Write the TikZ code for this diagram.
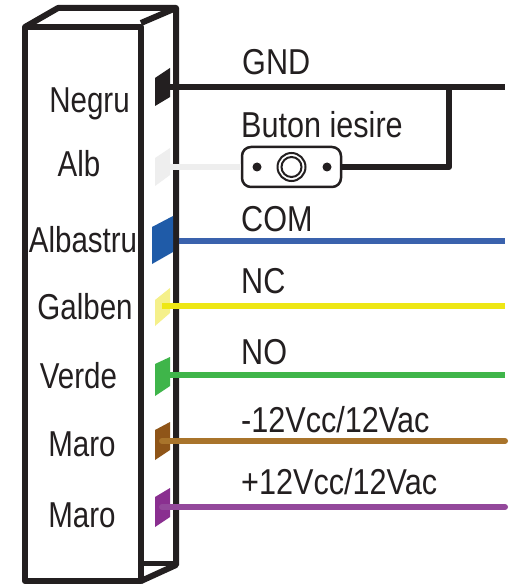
\documentclass[tikz,border=0pt]{standalone}
\usepackage{fontspec}
\newfontfamily\narrowfont[FakeStretch=0.82]{Liberation Sans}
\newfontfamily\tagfont[FakeStretch=0.85]{Liberation Sans}
\definecolor{ink}{HTML}{231F20}
\definecolor{pinwhite}{HTML}{EEEEEE}
\definecolor{pinblue}{HTML}{1F5BA8}
\definecolor{wireblue}{HTML}{3A62AD}
\definecolor{pinyellow}{HTML}{F5F08A}
\definecolor{wireyellow}{HTML}{EEE715}
\definecolor{pingreen}{HTML}{3FB54A}
\definecolor{pinbrown}{HTML}{8F5518}
\definecolor{wirebrown}{HTML}{A9742B}
\definecolor{pinpurple}{HTML}{8A2F90}
\definecolor{wirepurple}{HTML}{93489B}
\tikzset{
 x=1pt,y=-1pt,
 body/.style={draw=ink,line width=6pt,line join=round},
 wire/.style={line width=6pt},
 lab/.style={font=\narrowfont\fontsize{36pt}{36pt}\selectfont,text=ink,inner sep=0pt,anchor=base},
 tag/.style={font=\tagfont\fontsize{36pt}{36pt}\selectfont,text=ink,inner sep=0pt,anchor=base west},
 hole/.style={circle,fill=ink,minimum size=9pt,inner sep=0pt,draw=none},
}
\begin{document}
\begin{tikzpicture}
\useasboundingbox (0,0) rectangle (513,585);
\fill[white] (0,0) rectangle (513,585);
% box
\coordinate (ftl) at (25,27);
\coordinate (ftr) at (141,27);
\coordinate (fbl) at (25,581);
\coordinate (fbr) at (141,581);
\coordinate (btl) at (58,8);
\coordinate (btr) at (176,8);
\coordinate (bbr) at (176,565);
\fill[white] (ftl) -- (btl) -- (btr) -- (bbr) -- (fbr) -- (fbl) -- cycle;
\draw[body] (ftl) -- (btl) -- (btr) -- (bbr) -- (fbr);
\draw[body] (141,23) -- (btr);
\draw[body,line width=5pt] (141,563) -- (176,563);
\draw[body] (ftl) -- (ftr) -- (fbr) -- (fbl) -- cycle;
% pins
\fill[ink] (155,78) -- (170,68) -- (170,97) -- (155,106) -- cycle;
\fill[pinwhite] (155,158) -- (170,148) -- (170,175) -- (155,186) -- cycle;
\fill[pinblue] (152,227) -- (173,216) -- (173,252) -- (152,264) -- cycle;
\fill[pinyellow] (155,300) -- (170,288) -- (170,313) -- (155,326) -- cycle;
\fill[pingreen] (155,364) -- (170,357) -- (170,386) -- (155,396) -- cycle;
\fill[pinbrown] (155,430) -- (170,422) -- (170,450) -- (155,460) -- cycle;
\fill[pinpurple] (155,497) -- (170,488) -- (170,517) -- (155,527) -- cycle;
% wire ends
\coordinate (gndS) at (170,87);
\coordinate (gndE) at (505,87);
\coordinate (junc) at (449,87);
\coordinate (albS) at (170,167);
\coordinate (comS) at (179,240.5); \coordinate (comE) at (505,240.5);
\coordinate (ncS) at (162,306); \coordinate (ncE) at (505,306);
\coordinate (noS) at (170,375); \coordinate (noE) at (505,375);
\coordinate (m1S) at (162,441); \coordinate (m1E) at (505,441);
\coordinate (m2S) at (162,507); \coordinate (m2E) at (505,507);
\draw[wire,draw=ink] (gndS) -- (gndE);
% button
\node[draw=ink,line width=2.5pt,rounded corners=9pt,minimum width=99pt,minimum height=40pt,inner sep=0pt,fill=white] (btn) at (291.5,167) {};
\draw[wire,draw=pinwhite] (albS) -- (btn.west);
\draw[wire,draw=ink,line join=round] (btn.east) -| (junc);
\node[hole] (h1) at (257,167) {};
\node[hole] (h2) at (327,167) {};
\draw[ink,line width=2pt] (291.5,167) circle (14pt);
\draw[ink,line width=2pt] (291.5,167) circle (10pt);
\draw[wire,draw=wireblue] (comS) -- (comE);
\draw[wire,draw=wireyellow] (ncS) -- (ncE);
\draw[wire,draw=pingreen] (noS) -- (noE);
\draw[wire,draw=wirebrown,line cap=round] (m1S) -- (m1E);
\draw[wire,draw=wirepurple,line cap=round] (m2S) -- (m2E);
% labels
\node[lab] (n1) at (89.5,113) {Negru};
\node[lab] (n2) at (79,177) {Alb};
\node[lab] (n3) at (83,252) {Albastru};
\node[lab] (n4) at (85,319) {Galben};
\node[lab] (n5) at (78.5,388) {Verde};
\node[lab] (n6) at (82,456) {Maro};
\node[lab] (n7) at (82,527) {Maro};
\node[tag] (t1) at (242,74.5) {GND};
\node[tag] (t2) at (241,138) {Buton iesire};
\node[tag] (t3) at (241,231) {COM};
\node[tag] (t4) at (241,293) {NC};
\node[tag] (t5) at (241,364) {NO};
\node[tag] (t6) at (241,432) {-12Vcc/12Vac};
\node[tag] (t7) at (241,494) {+12Vcc/12Vac};
\end{tikzpicture}
\end{document}
